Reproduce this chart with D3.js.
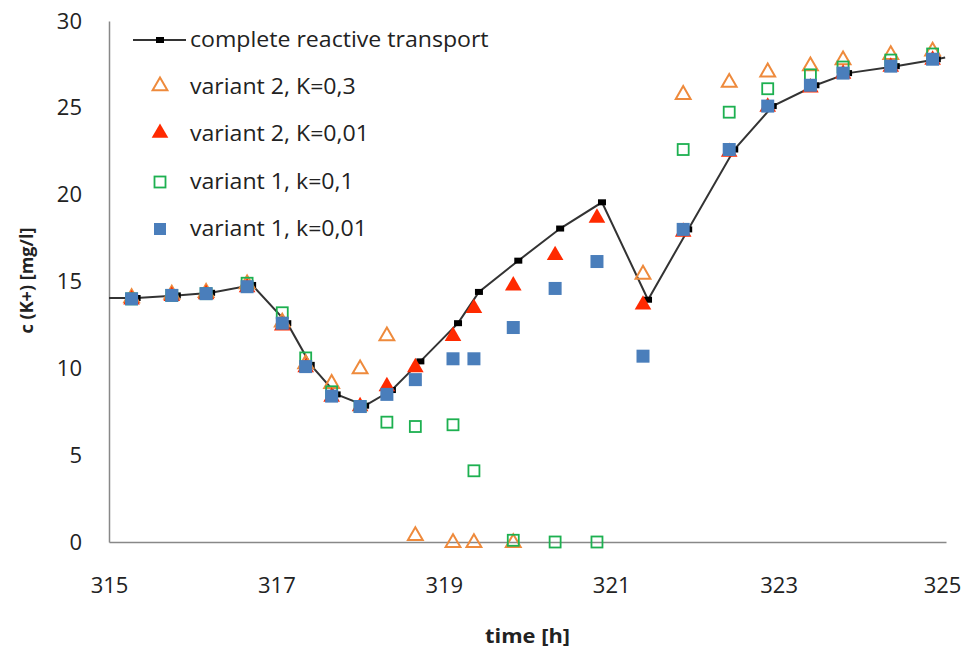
<!DOCTYPE html>
<html>
<head>
<meta charset="utf-8">
<script src="https://cdn.jsdelivr.net/npm/d3@7"></script>
<style>
  body { margin: 0; background: #fff; }
  text { font-family: "Open Sans", Lato, sans-serif; fill: #222; }
</style>
</head>
<body>
<div id="chart"></div>
<script>
// times of the model runs (h)
var times = [315.27, 315.75, 316.16, 316.65, 317.07, 317.35, 317.66, 318.00, 318.32, 318.66,
  319.11, 319.36, 319.83, 320.33, 320.83, 321.38, 321.86, 322.41, 322.87, 323.38, 323.77, 324.34, 324.84];

// complete reactive transport (own time axis)
var refTimes = [315.0, 315.33, 315.81, 316.22, 316.71, 317.13, 317.41, 317.72, 318.06, 318.38, 318.72,
  319.17, 319.42, 319.89, 320.39, 320.89, 321.44, 321.92, 322.47, 322.93, 323.44, 323.83, 324.40, 324.89, 324.99];
var refValues = [14.05, 14.05, 14.2, 14.35, 14.8, 12.6, 10.2, 8.5, 7.85, 8.75, 10.4,
  12.6, 14.4, 16.2, 18.05, 19.56, 13.95, 18.0, 22.6, 25.1, 26.3, 27.0, 27.4, 27.8, 27.9];

var v2K03 = [14.0, 14.2, 14.3, 14.8, 12.6, 10.2, 9.06, 9.9, 11.8, 0.3,
  -0.1, -0.1, -0.1, null, null, 15.35, 25.7, 26.4, 27.0, 27.35, 27.7, 28.0, 28.2];
var v2K001 = [13.9, 14.1, 14.2, 14.6, 12.4, 10.0, 8.3, 7.75, 8.9, 10.0,
  11.8, 13.4, 14.7, 16.45, 18.6, 13.6, 17.8, 22.4, 25.0, 26.1, 26.9, 27.3, 27.7];
var v1k01 = [14.0, 14.2, 14.3, 14.9, 13.2, 10.6, 8.65, 7.8, 6.9, 6.65,
  6.75, 4.1, 0.1, 0, 0, null, 22.6, 24.75, 26.1, 26.9, 27.35, 27.75, 28.1];
var v1k001 = [14.0, 14.2, 14.3, 14.7, 12.6, 10.1, 8.4, 7.8, 8.5, 9.35,
  10.55, 10.55, 12.35, 14.6, 16.15, 10.7, 18.0, 22.6, 25.1, 26.3, 27.0, 27.4, 27.8];

var legendLabels = ["complete reactive transport", "variant 2, K=0,3", "variant 2, K=0,01",
  "variant 1, k=0,1", "variant 1, k=0,01"];
var xTicks = [315, 317, 319, 321, 323, 325];
var yTicks = [0, 5, 10, 15, 20, 25, 30];

var W = 967, H = 652;
var margin = {top: 21, right: 21, bottom: 110, left: 109};

var svg = d3.select("#chart").append("svg")
  .attr("width", W).attr("height", H);

var x = d3.scaleLinear().domain([315, 325]).range([margin.left, W - margin.right]);
var y = d3.scaleLinear().domain([0, 30]).range([H - margin.bottom, margin.top]);

// axes
var xAxis = svg.append("g")
  .attr("transform", "translate(0," + y(0) + ")")
  .call(d3.axisBottom(x).tickValues(xTicks).tickSize(0).tickPadding(35).tickFormat(d3.format("d")));
var yAxis = svg.append("g")
  .attr("transform", "translate(" + x(315) + ",0)")
  .call(d3.axisLeft(y).tickValues(yTicks).tickSize(0).tickPadding(27));
[xAxis, yAxis].forEach(function(a) {
  a.select(".domain").attr("stroke", "#888").attr("stroke-width", 1.5);
  a.selectAll("text").style("font-size", "22px").attr("fill", "#222");
});
// last label pulled in a little, like the original
xAxis.selectAll(".tick text").filter(function(d) { return d === 325; }).attr("dx", -4);

svg.append("text")
  .attr("transform", "translate(" + ((x(315) + x(325)) / 2) + ",643) scale(1.15,1)")
  .attr("text-anchor", "middle")
  .style("font-size", "19px").style("font-weight", "bold")
  .text("time [h]");
svg.append("text")
  .attr("transform", "translate(33," + (y(15) - 1) + ") rotate(-90)")
  .attr("text-anchor", "middle")
  .style("font-size", "18px").style("font-weight", "bold")
  .text("c (K+) [mg/l]");

// marker shapes
var triUp = d3.symbol().type(d3.symbolTriangle);
function pts(vals) {
  return times.map(function(t, i) { return {t: t, v: vals[i]}; })
    .filter(function(d) { return d.v != null; });
}

// reference line
var refPts = refTimes.map(function(t, i) { return {t: t, v: refValues[i]}; });
svg.append("path")
  .datum(refPts)
  .attr("d", d3.line().x(function(d) { return x(d.t); }).y(function(d) { return y(d.v); }))
  .attr("fill", "none").attr("stroke", "#333").attr("stroke-width", 2);
svg.selectAll(".refm")
  .data(refPts.slice(1, refPts.length - 1))
  .enter().append("rect")
  .attr("x", function(d) { return x(d.t) - 4; })
  .attr("y", function(d) { return y(d.v) - 3; })
  .attr("width", 8).attr("height", 6)
  .attr("fill", "#000");

// variant 2, K=0,3 : open orange triangles
svg.selectAll(".o")
  .data(pts(v2K03)).enter().append("path")
  .attr("d", triUp.size(95))
  .attr("transform", function(d) { return "translate(" + x(d.t) + "," + (y(d.v) - 1) + ")"; })
  .attr("fill", "none").attr("stroke", "#EE8A3C").attr("stroke-width", 2);

// variant 2, K=0,01 : filled red triangles
svg.selectAll(".r")
  .data(pts(v2K001)).enter().append("path")
  .attr("d", triUp.size(120))
  .attr("transform", function(d) { return "translate(" + x(d.t) + "," + (y(d.v) - 1) + ")"; })
  .attr("fill", "#FF2A00");

// variant 1, k=0,1 : open green squares
svg.selectAll(".g")
  .data(pts(v1k01)).enter().append("rect")
  .attr("x", function(d) { return x(d.t) - 5.5; })
  .attr("y", function(d) { return y(d.v) - 5.5; })
  .attr("width", 11).attr("height", 11)
  .attr("fill", "none").attr("stroke", "#1DB050").attr("stroke-width", 1.8);

// variant 1, k=0,01 : filled blue squares
svg.selectAll(".b")
  .data(pts(v1k001)).enter().append("rect")
  .attr("x", function(d) { return x(d.t) - 6.5; })
  .attr("y", function(d) { return y(d.v) - 6.5; })
  .attr("width", 13).attr("height", 13)
  .attr("fill", "#4A7EBB");

// legend
var lg = svg.append("g");
var rowY = [40, 87, 134, 182, 229];
lg.append("line").attr("x1", 133).attr("x2", 186).attr("y1", rowY[0]).attr("y2", rowY[0])
  .attr("stroke", "#333").attr("stroke-width", 2);
lg.append("rect").attr("x", 156).attr("y", rowY[0] - 3).attr("width", 8).attr("height", 6).attr("fill", "#000");
lg.append("path").attr("d", triUp.size(95)).attr("transform", "translate(160," + (rowY[1] - 1) + ")")
  .attr("fill", "none").attr("stroke", "#EE8A3C").attr("stroke-width", 2);
lg.append("path").attr("d", triUp.size(120)).attr("transform", "translate(160," + (rowY[2] - 1) + ")")
  .attr("fill", "#FF2A00");
lg.append("rect").attr("x", 154.5).attr("y", rowY[3] - 5.5).attr("width", 11).attr("height", 11)
  .attr("fill", "none").attr("stroke", "#1DB050").attr("stroke-width", 1.8);
lg.append("rect").attr("x", 154).attr("y", rowY[4] - 6).attr("width", 12).attr("height", 12)
  .attr("fill", "#4A7EBB");
lg.append("g").attr("transform", "translate(190,0) scale(1.1,1)")
  .selectAll(".lt").data(legendLabels).enter().append("text")
  .attr("x", 0).attr("y", function(d, i) { return rowY[i] + 7; })
  .style("font-size", "21px")
  .text(function(d) { return d; });
</script>
</body>
</html>
